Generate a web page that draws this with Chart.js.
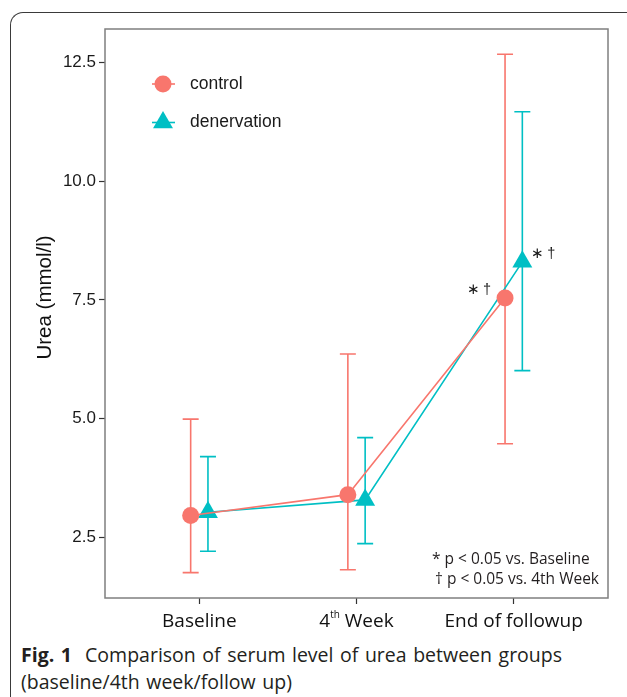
<!DOCTYPE html>
<html><head><meta charset="utf-8">
<script src="https://cdn.jsdelivr.net/npm/chart.js@4.4.1/dist/chart.umd.min.js"></script>
<style>
html,body{margin:0;padding:0;background:#fff;width:627px;height:697px;overflow:hidden;}
#frame{position:absolute;left:10px;top:12px;width:660px;height:720px;border-left:1px solid #3a3a3a;border-top:1px solid #3a3a3a;border-top-left-radius:13px;}
#wrap{position:absolute;left:0;top:0;width:627px;height:640px;}
#cap{position:absolute;left:21px;top:641px;font-family:"Open Sans";font-size:19.5px;line-height:27px;color:#231f20;white-space:nowrap;word-spacing:1.5px;}
#cap b{font-weight:700;}
</style></head><body>
<div id="frame"></div>
<div id="wrap"><canvas id="c" width="627" height="640"></canvas></div>
<div id="cap"><b>Fig. 1</b>&nbsp; Comparison of serum level of urea between groups<br>(baseline/4th week/follow up)</div>
<script>
const categories = ['Baseline', '4th Week', 'End of followup'];
const seriesNames = ['control', 'denervation'];
const controlMean = [2.96, 3.40, 7.54];
const controlLow  = [1.76, 1.82, 4.47];
const controlHigh = [4.99, 6.36, 12.67];
const denervMean  = [3.03, 3.29, 8.30];
const denervLow   = [2.21, 2.37, 6.01];
const denervHigh  = [4.20, 4.60, 11.46];
const yTicks = [2.5, 5.0, 7.5, 10.0, 12.5];
const sigLabels = ['', '', '\u2217\u2009\u2020'];
const footnotes = ['* p < 0.05 vs. Baseline', '\u2020 p < 0.05 vs. 4th Week'];
const yTitle = 'Urea (mmol/l)';

const COL = ['#F8766D', '#00BFC4'];
const DODGE = 0.055;
const mk = (arr, off) => arr.map((v, i) => ({x: i + 1 + off, y: v}));

const errPlugin = {
  id: 'errbars',
  beforeDatasetsDraw(chart) {
    const ctx = chart.ctx, xs = chart.scales.x, ys = chart.scales.y;
    chart.data.datasets.forEach((ds) => {
      ctx.save();
      ctx.strokeStyle = ds.borderColor; ctx.lineWidth = 1.6;
      ds.data.forEach((p, i) => {
        const x = xs.getPixelForValue(p.x);
        const y1 = ys.getPixelForValue(ds.low[i]), y2 = ys.getPixelForValue(ds.high[i]);
        ctx.beginPath();
        ctx.moveTo(x, y1); ctx.lineTo(x, y2);
        ctx.moveTo(x - 8, y1); ctx.lineTo(x + 8, y1);
        ctx.moveTo(x - 8, y2); ctx.lineTo(x + 8, y2);
        ctx.stroke();
      });
      ctx.restore();
    });
  },
  afterDatasetsDraw(chart) {
    const ctx = chart.ctx, a = chart.chartArea, xs = chart.scales.x, ys = chart.scales.y;
    ctx.save();
    ctx.fillStyle = '#1a1a1a';
    ctx.font = '14.5px "Liberation Sans"';
    ctx.textBaseline = 'middle'; ctx.textAlign = 'center';
    chart.data.datasets.forEach((ds, di) => {
      ds.data.forEach((p, i) => {
        if (!sigLabels[i]) return;
        const x = xs.getPixelForValue(p.x), y = ys.getPixelForValue(p.y);
        ctx.fillText(sigLabels[i], di === 0 ? x - 26 : x + 21, y - 8);
      });
    });
    ctx.font = '15.5px "Open Sans"'; ctx.textAlign = 'left'; ctx.fillStyle = '#231f20';
    ctx.fillText(footnotes[0], 432, 560);
    ctx.fillText(footnotes[1], 435, 580);
    const legY = [84, 122.5];
    ctx.font = '17.5px "Liberation Sans"'; ctx.fillStyle = '#1a1a1a';
    seriesNames.forEach((n, k) => {
      const cx = 163, cy = legY[k];
      ctx.strokeStyle = COL[k]; ctx.lineWidth = 1.6;
      ctx.beginPath(); ctx.moveTo(152, cy); ctx.lineTo(175, cy); ctx.stroke();
      ctx.fillStyle = COL[k];
      ctx.beginPath();
      if (k === 0) { ctx.arc(cx, cy, 8.5, 0, Math.PI * 2); }
      else {
        const r = 11.5;
        ctx.moveTo(cx, cy - r);
        ctx.lineTo(cx + r * Math.sqrt(3) / 2, cy + r / 2);
        ctx.lineTo(cx - r * Math.sqrt(3) / 2, cy + r / 2);
        ctx.closePath();
      }
      ctx.fill();
      ctx.fillStyle = '#1a1a1a';
      ctx.fillText(n, 190, cy);
    });
    ctx.strokeStyle = '#7f7f7f'; ctx.lineWidth = 1.5;
    ctx.strokeRect(a.left, a.top, a.right - a.left, a.bottom - a.top);
    ctx.restore();
  },
  afterDraw(chart) {
    const ctx = chart.ctx, xs = chart.scales.x;
    ctx.save();
    ctx.fillStyle = '#111';
    ctx.textBaseline = 'middle';
    const y = 622;
    const F = '19px "Open Sans"', FS = '10px "Open Sans"';
    categories.forEach((c, i) => {
      const x = xs.getPixelForValue(i + 1);
      const m = c.match(/^(\d+)(th)( .*)$/);
      if (m) {
        ctx.font = F;
        const w1 = ctx.measureText(m[1]).width, w3 = ctx.measureText(m[3]).width;
        ctx.font = FS;
        const w2 = ctx.measureText(m[2]).width;
        let sx = x - (w1 + w2 + w3) / 2;
        ctx.textAlign = 'left';
        ctx.font = F; ctx.fillText(m[1], sx, y); sx += w1;
        ctx.font = FS; ctx.fillText(m[2], sx, y - 7); sx += w2;
        ctx.font = F; ctx.fillText(m[3], sx, y);
      } else {
        ctx.font = F; ctx.textAlign = 'center';
        ctx.fillText(c, x, y);
      }
    });
    ctx.translate(45, 297.5); ctx.rotate(-Math.PI / 2);
    ctx.font = '20.5px "Liberation Sans"'; ctx.textAlign = 'center'; ctx.fillStyle = '#111';
    ctx.fillText(yTitle, 0, 0);
    ctx.restore();
  }
};

new Chart(document.getElementById('c'), {
  type: 'line',
  data: {
    datasets: [
      {label: seriesNames[0], data: mk(controlMean, -DODGE), low: controlLow, high: controlHigh,
       borderColor: COL[0], backgroundColor: COL[0], borderWidth: 1.6,
       pointStyle: 'circle', pointRadius: 8.5, pointHoverRadius: 8.5, pointBorderWidth: 0, tension: 0},
      {label: seriesNames[1], data: mk(denervMean, DODGE), low: denervLow, high: denervHigh,
       borderColor: COL[1], backgroundColor: COL[1], borderWidth: 1.6,
       pointStyle: 'triangle', pointRadius: 11.5, pointHoverRadius: 11.5, pointBorderWidth: 0, tension: 0}
    ]
  },
  options: {
    responsive: false, animation: false, devicePixelRatio: 1,
    layout: {padding: {top: 29, right: 19, left: 0, bottom: 0}},
    plugins: {legend: {display: false}, tooltip: {enabled: false}},
    events: [],
    scales: {
      x: {
        type: 'linear', min: 0.4, max: 3.6,
        afterBuildTicks: s => { s.ticks = categories.map((c, i) => ({value: i + 1})); },
        ticks: {display: false},
        grid: {drawOnChartArea: false, drawTicks: true, tickLength: 6, tickColor: '#333', tickWidth: 1.2},
        border: {display: false},
        afterFit: s => { s.height = 42; }
      },
      y: {
        type: 'linear', min: 1.225, max: 13.2,
        afterBuildTicks: s => { s.ticks = yTicks.map(v => ({value: v})); },
        ticks: {callback: v => Number(v).toFixed(1), font: {family: 'Liberation Sans', size: 17}, color: '#1a1a1a', padding: 3},
        grid: {drawOnChartArea: false, drawTicks: true, tickLength: 6, tickColor: '#333', tickWidth: 1.2},
        border: {display: false},
        afterFit: s => { s.width = 105; }
      }
    }
  },
  plugins: [errPlugin]
});
</script>
</body></html>
